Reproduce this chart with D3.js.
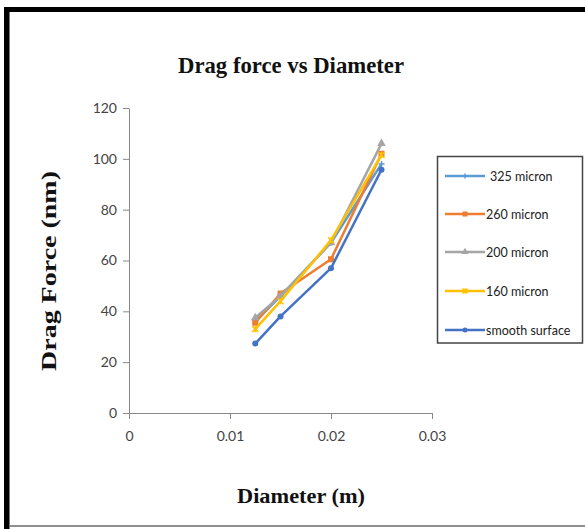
<!DOCTYPE html>
<html>
<head>
<meta charset="utf-8">
<script src="https://cdn.jsdelivr.net/npm/d3@7"></script>
<style>
  html, body { margin: 0; padding: 0; background: #fff; }
  svg { display: block; }
</style>
</head>
<body>
<svg id="chart" width="585" height="529"></svg>
<script>
// Diameter values (m) shared by every series
const diameters = [0.0125, 0.015, 0.02, 0.025];

const seriesNames = ["325 micron", "260 micron", "200 micron", "160 micron", "smooth surface"];
const seriesColors = ["#5B9BD5", "#ED7D31", "#A5A5A5", "#FFC000", "#4472C4"];
const seriesMarkers = ["plus", "square", "triangle", "cross", "circle"];

// Drag force readings for each surface
const force325 = [36, 46, 67, 98];
const force260 = [35.5, 47, 60.5, 102];
const force200 = [37.5, 46, 67, 106];
const force160 = [33, 44, 68, 101.5];
const forceSmooth = [27.3, 38, 57, 95.7];

const xTicks = [0, 0.01, 0.02, 0.03];
const yTicks = [0, 20, 40, 60, 80, 100, 120];

const seriesValues = [force325, force260, force200, force160, forceSmooth];

const svg = d3.select("#chart");

// outer frame
svg.append("line").attr("x1", 4).attr("x2", 585).attr("y1", 9.5).attr("y2", 9.5)
  .attr("stroke", "#000").attr("stroke-width", 5);
svg.append("line").attr("x1", 6.5).attr("x2", 6.5).attr("y1", 7).attr("y2", 529)
  .attr("stroke", "#000").attr("stroke-width", 5);
svg.append("line").attr("x1", 9.5).attr("x2", 9.5).attr("y1", 12).attr("y2", 529)
  .attr("stroke", "#777").attr("stroke-width", 1);
svg.append("line").attr("x1", 9).attr("x2", 585).attr("y1", 526).attr("y2", 526)
  .attr("stroke", "#6a6a6a").attr("stroke-width", 1.5);

const x = d3.scaleLinear().domain([0, 0.03]).range([129, 432]);
const y = d3.scaleLinear().domain([0, 120]).range([413, 108]);

const tickFont = "Lato, 'Open Sans', sans-serif";
const serif = "'Liberation Serif', 'Times New Roman', serif";

// axes
const xAxis = d3.axisBottom(x).tickValues(xTicks).tickFormat(d => d === 0 ? "0" : d3.format(".2f")(d))
  .tickSize(6).tickSizeOuter(0);
const gx = svg.append("g").attr("transform", `translate(0,${y(0)})`).call(xAxis);
gx.select(".domain").attr("stroke", "#888").attr("stroke-width", 1);
gx.selectAll(".tick line").attr("stroke", "#888");
gx.selectAll(".tick text").attr("font-family", tickFont).attr("font-size", 14)
  .attr("fill", "#444").attr("dy", "1.35em");

const yAxis = d3.axisLeft(y).tickValues(yTicks).tickSize(6).tickSizeOuter(0);
const gy = svg.append("g").attr("transform", `translate(${x(0)},0)`).call(yAxis);
gy.select(".domain").attr("stroke", "#888").attr("stroke-width", 1);
gy.selectAll(".tick line").attr("stroke", "#888");
gy.selectAll(".tick text").attr("font-family", tickFont).attr("font-size", 14)
  .attr("fill", "#444").attr("x", -12);

// titles
svg.append("text").attr("x", 291).attr("y", 73).attr("text-anchor", "middle")
  .attr("font-family", serif).attr("font-weight", "bold").attr("font-size", 23).attr("fill", "#111")
  .attr("textLength", 226).attr("lengthAdjust", "spacingAndGlyphs")
  .text("Drag force vs Diameter");

svg.append("text").attr("x", 301).attr("y", 503).attr("text-anchor", "middle")
  .attr("font-family", serif).attr("font-weight", "bold").attr("font-size", 22).attr("fill", "#111")
  .attr("textLength", 128).attr("lengthAdjust", "spacingAndGlyphs")
  .text("Diameter (m)");

svg.append("text").attr("transform", "translate(56,271) rotate(-90)").attr("text-anchor", "middle")
  .attr("font-family", serif).attr("font-weight", "bold").attr("font-size", 22).attr("fill", "#111")
  .attr("textLength", 200).attr("lengthAdjust", "spacingAndGlyphs")
  .text("Drag Force (nm)");

// marker drawing
function drawMarker(g, type, cx, cy, color, s) {
  if (type === "square") {
    g.append("rect").attr("x", cx - s / 2).attr("y", cy - s / 2).attr("width", s).attr("height", s)
      .attr("fill", color);
  } else if (type === "triangle") {
    g.append("path").attr("d", d3.symbol(d3.symbolTriangle, s * s * 0.9)()).attr("transform", `translate(${cx},${cy})`)
      .attr("fill", color);
  } else if (type === "circle") {
    g.append("circle").attr("cx", cx).attr("cy", cy).attr("r", s / 2).attr("fill", color);
  } else if (type === "cross") {
    const h = s / 2;
    g.append("path").attr("d", `M${cx - h},${cy - h}L${cx + h},${cy + h}M${cx - h},${cy + h}L${cx + h},${cy - h}M${cx},${cy - h}L${cx},${cy + h}`)
      .attr("stroke", color).attr("stroke-width", 1.5).attr("fill", "none");
  } else {
    const h = s / 2;
    g.append("path").attr("d", `M${cx - h},${cy}L${cx + h},${cy}M${cx},${cy - h}L${cx},${cy + h}`)
      .attr("stroke", color).attr("stroke-width", 1.5).attr("fill", "none");
  }
}

const line = d3.line().x(d => x(d[0])).y(d => y(d[1]));

seriesValues.forEach((vals, i) => {
  const pts = diameters.map((d, j) => [d, vals[j]]);
  const g = svg.append("g");
  g.append("path").datum(pts).attr("d", line).attr("fill", "none")
    .attr("stroke", seriesColors[i]).attr("stroke-width", 2.5).attr("stroke-linejoin", "round");
  pts.forEach(p => drawMarker(g, seriesMarkers[i], x(p[0]), y(p[1]), seriesColors[i], 6));
});

// legend
const lg = svg.append("g");
lg.append("rect").attr("x", 437.5).attr("y", 156.5).attr("width", 145).attr("height", 186.5)
  .attr("fill", "#fff").attr("stroke", "#444").attr("stroke-width", 1.5);
const legendY = [176, 214, 252, 291, 330];
seriesNames.forEach((name, i) => {
  const yy = legendY[i];
  lg.append("line").attr("x1", 445).attr("x2", 485).attr("y1", yy).attr("y2", yy)
    .attr("stroke", seriesColors[i]).attr("stroke-width", 2.5);
  drawMarker(lg, seriesMarkers[i], 465, yy, seriesColors[i], 5);
  lg.append("text").attr("x", i === 0 ? 490 : 486).attr("y", yy + 4.5)
    .attr("font-family", tickFont).attr("font-size", 12.5).attr("fill", "#222")
    .text(name);
});
</script>
</body>
</html>
